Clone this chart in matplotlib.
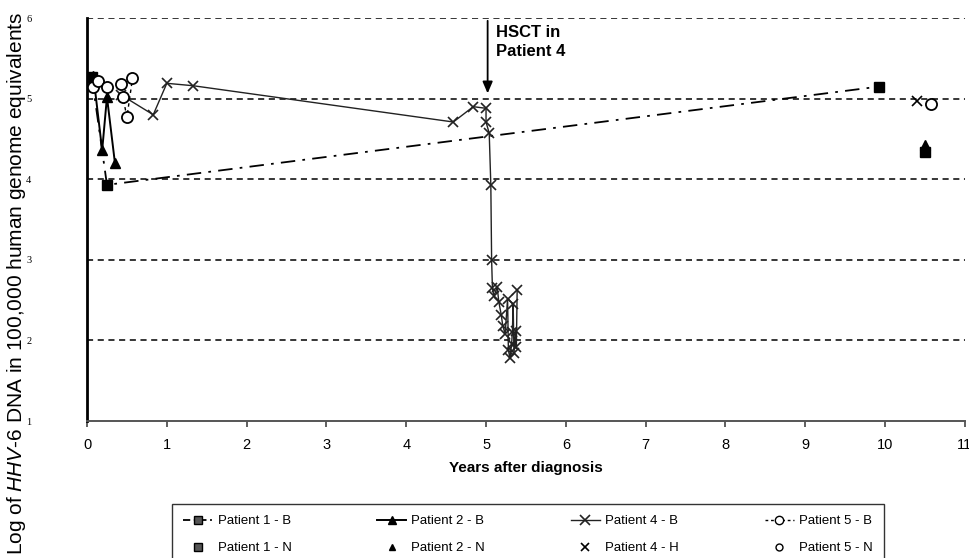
import matplotlib
matplotlib.use("Agg")
import matplotlib.pyplot as plt
from matplotlib.lines import Line2D

plt.rcParams['font.family'] = ['Liberation Sans', 'DejaVu Sans']
plt.rcParams['mathtext.fontset'] = 'custom'
plt.rcParams['mathtext.rm'] = 'Liberation Sans'
plt.rcParams['mathtext.it'] = 'Liberation Sans:italic'

# Patient 1 - blood series and follow-up point
p1_b_years = [0.06, 0.25, 9.93]
p1_b_log = [5.27, 3.93, 5.15]
p1_n_years = [10.50]
p1_n_log = [4.34]

# Patient 2
p2_b_years = [0.08, 0.19, 0.25, 0.35]
p2_b_log = [5.28, 4.36, 5.02, 4.20]
p2_n_years = [10.50]
p2_n_log = [4.43]

# Patient 4 (HSCT at ~5 years)
p4_b_years = [0.42, 0.83, 1.00, 1.33, 4.59, 4.84, 5.00, 5.00, 5.04,
              5.06, 5.07, 5.08, 5.10, 5.14, 5.16, 5.19, 5.21, 5.24,
              5.27, 5.28, 5.30, 5.32, 5.33, 5.34, 5.35, 5.37, 5.38, 5.39]
p4_b_log = [5.05, 4.80, 5.19, 5.16, 4.71, 4.90, 4.88, 4.71, 4.57,
            3.93, 3.00, 2.65, 2.55, 2.66, 2.48, 2.32, 2.18, 2.08,
            2.52, 1.88, 1.78, 1.95, 2.10, 2.45, 1.84, 2.12, 1.92, 2.62]
p4_h_years = [10.40]
p4_h_log = [4.97]

# Patient 5
p5_b_years = [0.07, 0.14, 0.25, 0.42, 0.45, 0.50, 0.57]
p5_b_log = [5.15, 5.22, 5.15, 5.18, 5.02, 4.77, 5.25]
p5_n_years = [10.57]
p5_n_log = [4.93]

x_ticks = list(range(0, 12))
y_ticks = [1, 2, 3, 4, 5, 6]

fig = plt.figure(figsize=(9.7, 5.58), dpi=100)
ax = fig.add_axes([0.0897, 0.2455, 0.905, 0.7222])
ax.set_xlim(0, 11)
ax.set_ylim(1, 6)

for yv in y_ticks[1:]:
    ax.axhline(yv, color='black', lw=1.1, ls=(0, (4, 3)), zorder=1)

ax.plot(p1_b_years, p1_b_log, color='black', lw=1.3, ls=(0, (8, 4, 1.5, 4)),
        marker='s', ms=7.5, mfc='black', mec='black', zorder=3)
ax.plot(p2_b_years, p2_b_log, color='black', lw=1.4, ls='-',
        marker='^', ms=7.5, mfc='black', mec='black', zorder=3)
ax.plot(p4_b_years, p4_b_log, color='#222222', lw=1.0, ls='-',
        marker='x', ms=7.5, mew=1.2, zorder=3)
ax.plot(p5_b_years, p5_b_log, color='black', lw=1.0, ls=(0, (2.5, 2.5)),
        marker='o', ms=8, mfc='white', mec='black', mew=1.3, zorder=4)

ax.plot(p1_n_years, p1_n_log, ls='none', marker='s', ms=7.5, color='black', zorder=3)
ax.plot(p2_n_years, p2_n_log, ls='none', marker='^', ms=7.5, color='black', zorder=3)
ax.plot(p4_h_years, p4_h_log, ls='none', marker='x', ms=7.5, mew=1.2, color='black', zorder=3)
ax.plot(p5_n_years, p5_n_log, ls='none', marker='o', ms=8, mfc='white', mec='black', mew=1.3, zorder=3)

# HSCT marker arrow
ax.annotate('', xy=(5.02, 5.03), xytext=(5.02, 6.0),
            arrowprops=dict(arrowstyle='-|>,head_length=0.7,head_width=0.3',
                            color='black', lw=1.3), zorder=5)
ax.text(5.13, 5.91, 'HSCT in\nPatient 4', fontsize=12, fontweight='bold',
        va='top', ha='left', linespacing=1.3)

for s in ['top', 'right']:
    ax.spines[s].set_visible(False)
ax.spines['left'].set_linewidth(2.0)
ax.spines['left'].set_color('black')
ax.spines['bottom'].set_linewidth(1.4)
ax.spines['bottom'].set_color('#555555')

ax.set_xticks(x_ticks)
ax.set_xticklabels([str(v) for v in x_ticks], fontsize=10.5)
ax.tick_params(axis='x', direction='out', length=4, width=1.2, color='#444444', pad=8)
ax.set_yticks(y_ticks)
ax.set_yticklabels([str(v) for v in y_ticks], fontsize=7.5, family='Liberation Serif')
ax.tick_params(axis='y', direction='out', length=0, pad=40)

ax.set_xlabel('Years after diagnosis', fontsize=11, fontweight='bold', labelpad=7)
fig.text(0.017, 0.492, r'Log of $\mathit{HHV}$-$\mathit{6}$ DNA in 100,000 human genome equivalents',
         rotation=90, va='center', ha='center', fontsize=15)

handles = [
    Line2D([], [], color='black', lw=1.3, ls=(0, (4, 2, 1, 2)), marker='s', ms=6, mfc='#555555', mec='black'),
    Line2D([], [], ls='none', marker='s', ms=6, mfc='#555555', mec='black'),
    Line2D([], [], color='black', lw=1.4, marker='^', ms=6, mfc='black'),
    Line2D([], [], ls='none', marker='^', ms=5, mfc='black', mec='black'),
    Line2D([], [], color='#222222', lw=1.0, marker='x', ms=7, mew=1.2),
    Line2D([], [], ls='none', marker='x', ms=6, mew=1.2, color='black'),
    Line2D([], [], color='black', lw=1.0, ls=(0, (2, 2)), marker='o', ms=6, mfc='white', mec='black'),
    Line2D([], [], ls='none', marker='o', ms=5, mfc='white', mec='black'),
]
labels = ['Patient 1 - B', 'Patient 1 - N', 'Patient 2 - B', 'Patient 2 - N',
          'Patient 4 - B', 'Patient 4 - H', 'Patient 5 - B', 'Patient 5 - N']
leg = fig.legend(handles, labels, ncol=4, loc='upper left',
                 bbox_to_anchor=(172 / 970, 1 - 504 / 558), frameon=True,
                 fancybox=False, edgecolor='black', fontsize=9.5,
                 handlelength=2.2, handletextpad=0.4, columnspacing=6.5,
                 borderpad=0.85, labelspacing=1.1, borderaxespad=0)
leg.get_frame().set_linewidth(1.0)

fig.savefig('out.png', dpi=100)
